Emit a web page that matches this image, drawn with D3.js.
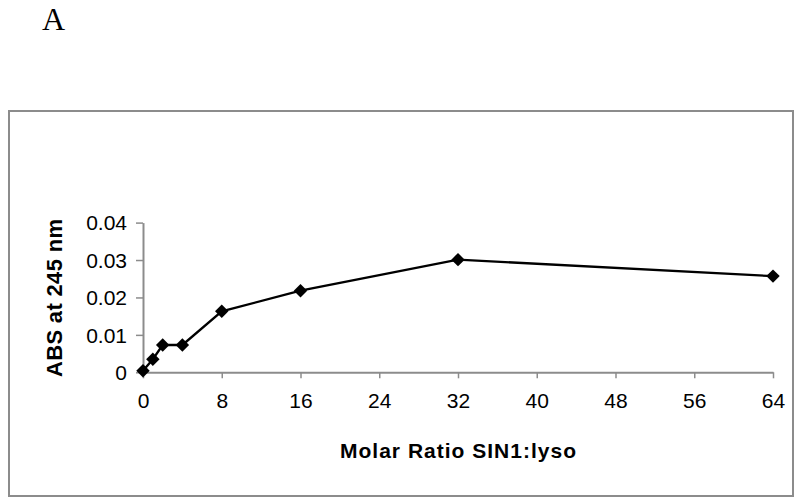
<!DOCTYPE html>
<html>
<head>
<meta charset="utf-8">
<script src="https://cdn.jsdelivr.net/npm/d3@7"></script>
<style>
  body { margin: 0; background: #fff; }
  svg { display: block; }
</style>
</head>
<body>
<svg></svg>
<script>
var width = 800;
var height = 504;

// molar ratio SIN1:lyso vs absorbance
var ratios = [0, 1, 2, 4, 8, 16, 32, 64];
var absValues = [0.0004, 0.0035, 0.0073, 0.0073, 0.0163, 0.0218, 0.0301, 0.0257];
var xTicks = [0, 8, 16, 24, 32, 40, 48, 56, 64];
var yTicks = [0, 0.01, 0.02, 0.03, 0.04];

var svg = d3.select("svg")
    .attr("width", width)
    .attr("height", height);

// panel letter
svg.append("text")
    .attr("x", 42)
    .attr("y", 30)
    .style("font-family", "'Liberation Serif', 'Times New Roman', serif")
    .style("font-size", "32px")
    .text("A");

// outer frame
svg.append("rect")
    .attr("x", 9)
    .attr("y", 111)
    .attr("width", 784)
    .attr("height", 385)
    .attr("fill", "none")
    .attr("stroke", "#8c8c8c")
    .attr("stroke-width", 2);

var x = d3.scaleLinear().domain([0, 64]).range([143, 773]);
var y = d3.scaleLinear().domain([0, 0.04]).range([372.3, 222.6]);

var gx = svg.append("g")
    .attr("transform", "translate(0," + y(0) + ")")
    .call(d3.axisBottom(x).tickValues(xTicks).tickSize(6).tickPadding(15).tickSizeOuter(0));

var gy = svg.append("g")
    .attr("transform", "translate(" + x(0) + ",0)")
    .call(d3.axisLeft(y).tickValues(yTicks).tickSize(7).tickPadding(9).tickSizeOuter(0)
        .tickFormat(function(d) { return d === 0 ? "0" : d3.format(".2f")(d); }));

[gx, gy].forEach(function(g) {
    g.select(".domain").attr("stroke", "#8c8c8c").attr("stroke-width", 2);
    g.selectAll(".tick line").attr("stroke", "#8c8c8c").attr("stroke-width", 1.5);
    g.selectAll(".tick text")
        .style("font-family", "'Liberation Sans', Arial, sans-serif")
        .style("font-size", "21px")
        .attr("fill", "#000");
});
gy.selectAll(".tick text").attr("dy", "0.35em");

var lineFunction = d3.line()
    .x(function(d, i) { return x(ratios[i]); })
    .y(function(d) { return y(d); });

svg.append("path")
    .datum(absValues)
    .attr("d", lineFunction)
    .attr("fill", "none")
    .attr("stroke", "#000")
    .attr("stroke-width", 2.3);

var diamond = d3.symbol().type(d3.symbolDiamond2).size(115);

svg.selectAll("path.pt")
    .data(absValues)
    .enter().append("path")
    .attr("class", "pt")
    .attr("d", diamond)
    .attr("transform", function(d, i) { return "translate(" + x(ratios[i]) + "," + y(d) + ")"; })
    .attr("fill", "#000");

// axis titles
svg.append("text")
    .attr("transform", "translate(62,298) rotate(-90)")
    .attr("text-anchor", "middle")
    .attr("textLength", 158)
    .style("font-family", "'Liberation Sans', Arial, sans-serif")
    .style("font-size", "22px")
    .style("font-weight", "bold")
    .text("ABS at 245 nm");

svg.append("text")
    .attr("x", 458)
    .attr("y", 458)
    .attr("text-anchor", "middle")
    .attr("textLength", 236)
    .style("font-family", "'Liberation Sans', Arial, sans-serif")
    .style("font-size", "21px")
    .style("font-weight", "bold")
    .text("Molar Ratio SIN1:lyso");
</script>
</body>
</html>
